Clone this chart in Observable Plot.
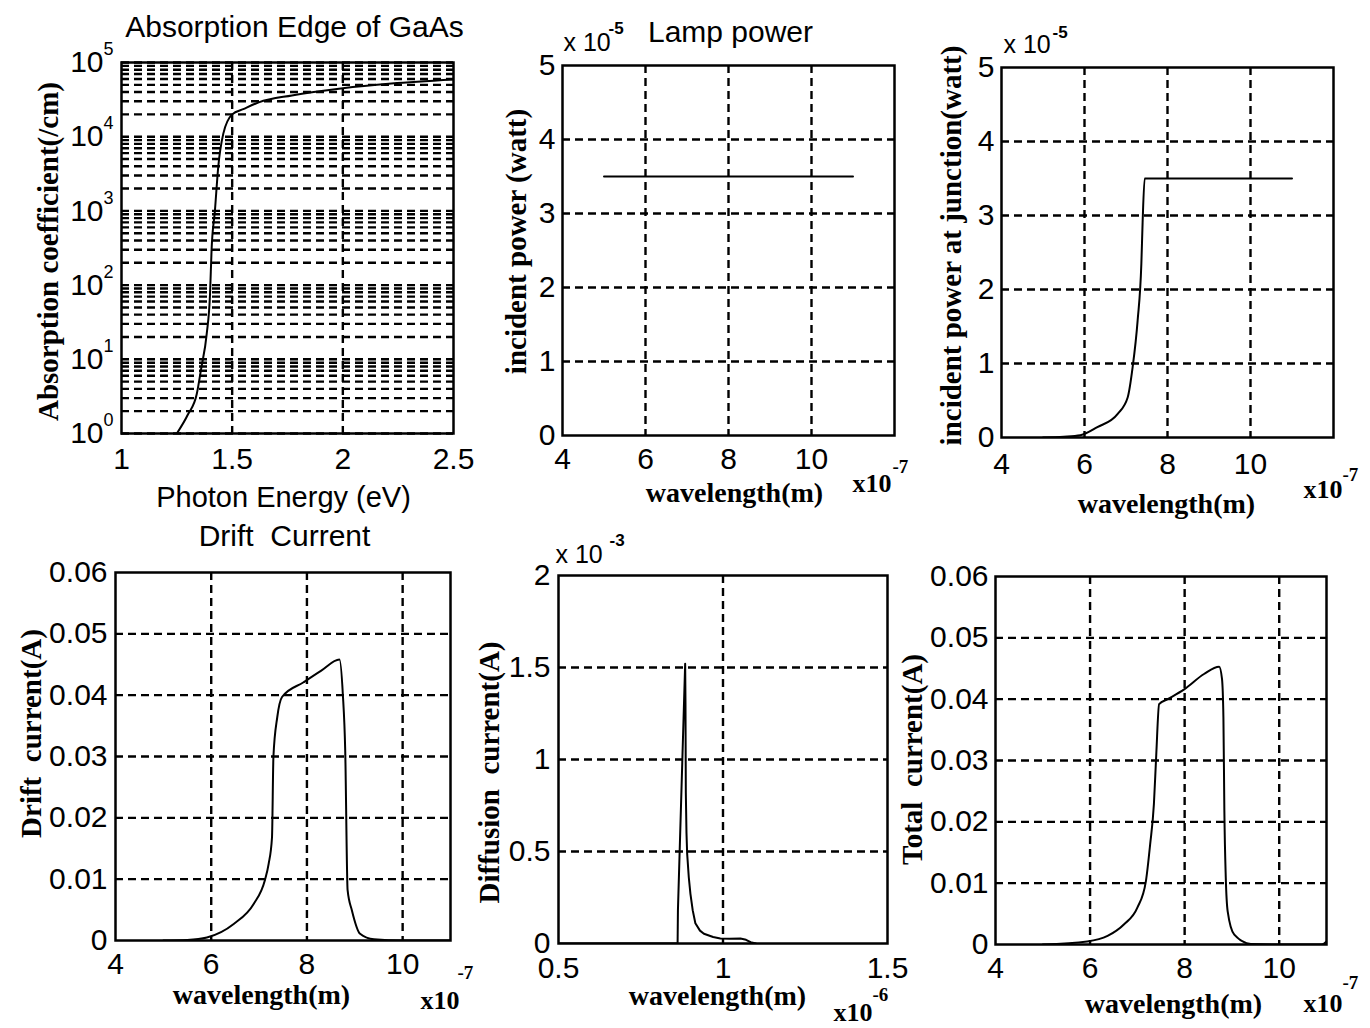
<!DOCTYPE html>
<html><head><meta charset="utf-8">
<script src="https://cdn.jsdelivr.net/npm/d3@7"></script>
<script src="https://cdn.jsdelivr.net/npm/@observablehq/plot@0.6"></script>
<style>
html,body{margin:0;padding:0;background:#fff}
#wrap{position:relative;width:1370px;height:1028px;overflow:hidden;background:#fff}
#wrap svg{position:absolute}
</style></head>
<body><div id="wrap"></div>
<script>
// ---------- DATA ----------
// Panel 1: Absorption edge of GaAs
const photonEnergy = [1.25,1.30,1.34,1.36,1.385,1.40,1.407,1.422,1.437,1.46,1.50,1.55,1.62,1.77,2.0,2.22,2.5];
const absorption   = [1,1.8,3.4,7.5,22,76,300,1000,3900,11000,20000,23500,29000,36000,45000,52000,59000];
const p1XTicks = [1,1.5,2,2.5];
const p1YDecades = [1,10,100,1000,10000,100000];
const p1YExponents = ["0","1","2","3","4","5"];

// Panel 2: Lamp power (x1e-7 m, x1e-5 W)
const lampWavelength = [5,6,7,8,9,10,11];
const lampPower      = [3.5,3.5,3.5,3.5,3.5,3.5,3.5];

// Panel 3: Incident power at junction (x1e-7 m, x1e-5 W)
const junctionWavelength = [5.0,5.5,5.9,6.31,6.8,7.04,7.16,7.28,7.37,7.40,7.45,11.0];
const junctionPower      = [0.0,0.01,0.03,0.14,0.32,0.54,0.95,1.58,2.35,2.9,3.5,3.5];

// Panel 4: Drift current (x1e-7 m, A)
const driftWavelength = [5.0,5.5,5.91,6.47,6.89,7.12,7.2,7.27,7.30,7.38,7.48,7.93,8.30,8.68,8.75,8.80,8.85,8.94,9.11,9.4,10,11];
const driftCurrent    = [0,0.0001,0.0005,0.0027,0.006,0.0098,0.0125,0.0168,0.030,0.0364,0.0397,0.0421,0.0440,0.0458,0.0402,0.031,0.0082,0.0049,0.0011,0.0002,0,0];

// Panel 5: Diffusion current (x1e-6 m, x1e-3 A)
const diffusionWavelength = [0.5,0.862,0.863,0.885,0.886,0.887,0.889,0.891,0.896,0.901,0.908,0.916,0.93,0.942,0.97,0.992,1.02,1.053,1.07,1.084,1.1];
const diffusionCurrent    = [0,0,0.18,1.52,1.3,0.82,0.6,0.49,0.36,0.27,0.18,0.11,0.07,0.053,0.035,0.027,0.026,0.027,0.02,0.007,0];

// Panel 6: Total current (x1e-7 m, A)
const totalWavelength = [5.0,5.94,6.37,6.72,7.0,7.18,7.27,7.35,7.40,7.46,7.64,7.99,8.41,8.73,8.79,8.82,8.84,8.87,8.91,9.05,9.4,10,10.9,11];
const totalCurrent    = [0,0.0005,0.0014,0.0033,0.006,0.0103,0.0163,0.0229,0.031,0.0392,0.0400,0.0416,0.0441,0.0453,0.0433,0.037,0.0218,0.0109,0.0054,0.0016,0.0001,0,0,0.0005];

// tick labels
const wlTicks7 = [4,6,8,10];
const powerTicks = [0,1,2,3,4,5];
const currentTicks = [0,0.01,0.02,0.03,0.04,0.05,0.06];
const diffXTicks = [0.5,1,1.5];
const diffYTicks = [0,0.5,1,1.5,2];

// ---------- RENDER ----------
const SANS = "'Liberation Sans', Arial, Helvetica, sans-serif";
const SERIF = "'Liberation Serif', 'Times New Roman', serif";
const wrap = document.getElementById("wrap");
const GRID = {stroke:"black", strokeOpacity:1, strokeWidth:2.4, strokeDasharray:"8,5"};
const LINE = {stroke:"black", strokeWidth:2, clip:true, curve:"monotone-x"};
const zip = (xs, ys) => xs.map((x, i) => ({x, y: ys[i]}));

const xAxis = (ticks, pad) => Plot.axisX(ticks, {tickSize:0, tickPadding:pad, label:null, fontSize:30, fontFamily:SANS, fill:"black", tickFormat:d => String(d)});
const yAxis = (ticks, pad) => Plot.axisY(ticks, {tickSize:0, tickPadding:pad, label:null, fontSize:30, fontFamily:SANS, fill:"black", tickFormat:d => String(d)});
const frame = () => Plot.frame({stroke:"black", strokeWidth:2.5});

function panel({cell, box, x, y, marks}) {
  const [cl, ct, cw, ch] = cell;
  const [fl, ft, fr, fb] = box;
  const note = (txt, px, py, o = {}) => Plot.text([txt], {
    frameAnchor:"top-left", dx: px - fl, dy: py - ft, text: d => d,
    textAnchor:"middle", lineAnchor:"middle", fill:"black", fontFamily:SANS, ...o
  });
  const svg = Plot.plot({
    width: cw, height: ch,
    marginLeft: fl - cl, marginTop: ft - ct, marginRight: cl + cw - fr, marginBottom: ct + ch - fb,
    x: {...x, axis:null}, y: {...y, axis:null},
    style: {background:"transparent", overflow:"visible", fontFamily:SANS, fontSize:"29px", color:"black"},
    marks: marks(note)
  });
  svg.style.position = "absolute";
  svg.style.left = cl + "px";
  svg.style.top = ct + "px";
  wrap.appendChild(svg);
}

const SER = {fontFamily:SERIF, fontWeight:"bold", fontSize:29};
const XLAB = {fontFamily:SERIF, fontWeight:"bold", fontSize:28};
const EXPB = {textAnchor:"start", fontFamily:SERIF, fontWeight:"bold", fontSize:26};
const EXPS = {textAnchor:"start", fontFamily:SERIF, fontWeight:"bold", fontSize:19};
const logGrid = d3.range(0, 5).flatMap(k => d3.range(1, 10).map(m => m * 10 ** k)).concat([1e5]);

// Panel 1
panel({
  cell:[0,0,480,515], box:[121,62,453,433],
  x:{domain:[1,2.5]}, y:{type:"log", domain:[1,1e5]},
  marks: note => [
    Plot.gridY(logGrid, GRID),
    Plot.gridX([1.5,2], GRID),
    Plot.line(zip(photonEnergy, absorption), {x:"x", y:"y", ...LINE}),
    frame(),
    xAxis(p1XTicks, 14),
    Plot.text(p1YDecades, {y:d => d, frameAnchor:"left", dx:-18, textAnchor:"end", lineAnchor:"middle", text:() => "10", fontSize:30, fill:"black"}),
    Plot.text(p1YDecades, {y:d => d, frameAnchor:"left", dx:-18, dy:-13, textAnchor:"start", lineAnchor:"middle", text:(d, i) => p1YExponents[i], fontSize:18, fill:"black"}),
    note("Absorption Edge of GaAs", 294, 27, {fontSize:30}),
    note("Photon Energy (eV)", 283, 497, {fontSize:29}),
    note("Absorption coefficient(/cm)", 48, 251, {rotate:-90, ...SER})
  ]
});

// Panel 2
panel({
  cell:[480,0,440,515], box:[562,65,894,435],
  x:{domain:[4,12]}, y:{domain:[0,5]},
  marks: note => [
    Plot.gridY([1,2,3,4], GRID),
    Plot.gridX([6,8,10], GRID),
    Plot.line(zip(lampWavelength, lampPower), {x:"x", y:"y", ...LINE}),
    frame(),
    xAxis(wlTicks7, 12),
    yAxis(powerTicks, 7),
    note("x 10", 563, 42, {textAnchor:"start", fontSize:25}),
    note("-5", 608, 28, {textAnchor:"start", fontSize:17, fontWeight:"bold"}),
    note("Lamp power", 730, 32, {fontSize:30}),
    note("incident power (watt)", 516, 241, {rotate:-90, ...SER}),
    note("wavelength(m)", 734, 493, XLAB),
    note("x10", 852, 483, EXPB),
    note("-7", 892, 466, EXPS)
  ]
});

// Panel 3
panel({
  cell:[920,0,450,515], box:[1001,67,1333,437],
  x:{domain:[4,12]}, y:{domain:[0,5]},
  marks: note => [
    Plot.gridY([1,2,3,4], GRID),
    Plot.gridX([6,8,10], GRID),
    Plot.line(zip(junctionWavelength, junctionPower), {x:"x", y:"y", ...LINE}),
    frame(),
    xAxis(wlTicks7, 15),
    yAxis(powerTicks, 7),
    note("x 10", 1003, 44, {textAnchor:"start", fontSize:25}),
    note("-5", 1052, 32, {textAnchor:"start", fontSize:17, fontWeight:"bold"}),
    note("incident power at junction(watt)", 951, 245, {rotate:-90, ...SER}),
    note("wavelength(m)", 1166, 504, XLAB),
    note("x10", 1303, 489, EXPB),
    note("-7", 1342, 474, EXPS)
  ]
});

// Panel 4
panel({
  cell:[0,515,480,513], box:[115,572,450,940],
  x:{domain:[4,11]}, y:{domain:[0,0.06]},
  marks: note => [
    Plot.gridY([0.01,0.02,0.03,0.04,0.05], GRID),
    Plot.gridX([6,8,10], GRID),
    Plot.line(zip(driftWavelength, driftCurrent), {x:"x", y:"y", ...LINE}),
    frame(),
    xAxis(wlTicks7, 12),
    yAxis(currentTicks, 8),
    note("Drift\u00a0 Current", 284, 536, {fontSize:30}),
    note("Drift\u00a0 current(A)", 31, 733, {rotate:-90, ...SER}),
    note("wavelength(m)", 261, 995, XLAB),
    note("x10", 420, 1000, EXPB),
    note("-7", 457, 972, EXPS)
  ]
});

// Panel 5
panel({
  cell:[480,515,420,513], box:[558,575,887,943],
  x:{domain:[0.5,1.5]}, y:{domain:[0,2]},
  marks: note => [
    Plot.gridY([0.5,1,1.5], GRID),
    Plot.gridX([1], GRID),
    Plot.line(zip(diffusionWavelength, diffusionCurrent), {x:"x", y:"y", stroke:"black", strokeWidth:2, clip:true}),
    frame(),
    xAxis(diffXTicks, 13),
    yAxis(diffYTicks, 8),
    note("x 10", 555, 554, {textAnchor:"start", fontSize:25}),
    note("-3", 609, 540, {textAnchor:"start", fontSize:17, fontWeight:"bold"}),
    note("Diffusion\u00a0 current(A)", 489, 772, {rotate:-90, ...SER}),
    note("wavelength(m)", 717, 996, XLAB),
    note("x10", 833, 1012, EXPB),
    note("-6", 872, 994, EXPS)
  ]
});

// Panel 6
panel({
  cell:[900,515,470,513], box:[995,576,1326,944],
  x:{domain:[4,11]}, y:{domain:[0,0.06]},
  marks: note => [
    Plot.gridY([0.01,0.02,0.03,0.04,0.05], GRID),
    Plot.gridX([6,8,10], GRID),
    Plot.line(zip(totalWavelength, totalCurrent), {x:"x", y:"y", ...LINE}),
    frame(),
    xAxis(wlTicks7, 12),
    yAxis(currentTicks, 7),
    note("Total\u00a0 current(A)", 912, 759, {rotate:-90, ...SER}),
    note("wavelength(m)", 1173, 1004, XLAB),
    note("x10", 1303, 1003, EXPB),
    note("-7", 1342, 982, EXPS)
  ]
});
</script>
</body></html>
